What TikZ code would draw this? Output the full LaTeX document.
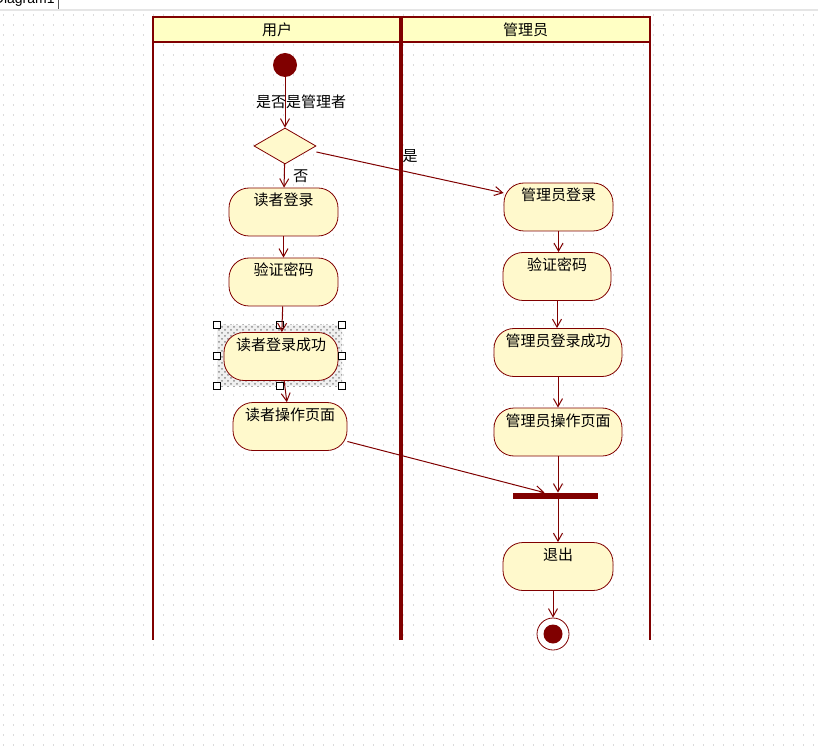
\documentclass[tikz,border=0pt]{standalone}
\usepackage{fontspec}
\setmainfont{Noto Sans CJK SC}
\newfontfamily\uifont{Liberation Sans}
\usetikzlibrary{arrows.meta,positioning,shapes.geometric,patterns}
\definecolor{umlred}{RGB}{128,0,0}
\definecolor{umlfill}{RGB}{255,249,204}
\definecolor{headfill}{RGB}{255,255,196}

\begin{document}
\begin{tikzpicture}[x=0.5pt,y=-0.5pt,>={Straight Barb[length=4pt,width=4.5pt]},
  every node/.style={font=\fontsize{7.5}{9}\selectfont},
  act/.style={draw=umlred,fill=umlfill,rounded corners=10pt,inner sep=0pt,minimum height=24pt,text height=9pt,text depth=15pt},
  lanehead/.style={draw=umlred,fill=headfill,line width=1pt,inner sep=0pt,minimum height=12.5pt},
  flow/.style={->,draw=umlred,line width=0.5pt},
  lane/.style={draw=umlred,line width=1pt}]
% canvas and grid
\fill[white] (0,0) rectangle (818,753);
\useasboundingbox (0,0) rectangle (818,753);
\foreach \gy in {15,25,...,745}
  \draw[gray!28,line width=0.6pt,dash pattern=on 0.6pt off 4.4pt] (3,\gy) -- (818,\gy);
\draw[gray!20,line width=1pt] (0,10) -- (818,10);
\begin{scope}
  \clip (0,0) rectangle (57,9);
  \node[font=\uifont\fontsize{7}{8}\selectfont,anchor=base east,inner sep=0pt] (tab) at (55,4) {Diagram1};
\end{scope}
\draw[gray!70!black] (58,0) -- (58,9);

% swimlanes
\node[lanehead,minimum width=124pt] (userhead) at (277,29.5) {用户};
\node[lanehead,minimum width=124.5pt] (adminhead) at (525.5,29.5) {管理员};
\draw[lane] (153,17) -- (153,640);
\draw[lane,line width=2pt] (401,17) -- (401,640);
\draw[lane] (650,17) -- (650,640);

% reader side
\node[circle,fill=umlred,minimum size=12pt,inner sep=0pt] (start) at (285,65) {};
\node[diamond,draw=umlred,fill=umlfill,minimum width=31pt,minimum height=18pt,inner sep=0pt] (isadmin) at (285,146) {};
\node[act,minimum width=54.5pt] (rlogin) at (283.5,212) {读者登录};
\node[act,minimum width=54.5pt] (rcheck) at (283.5,282) {验证密码};
\fill[gray!12] (217,325) rectangle (342,386);
\fill[pattern=crosshatch dots,pattern color=gray!90] (217,325) rectangle (342,386);
\node[act,minimum width=57pt] (rok) at (281,356.5) {读者登录成功};
\node[act,minimum width=57pt] (rpage) at (290,426.5) {读者操作页面};
\foreach \hx/\hy in {217/325,279.5/325,342/325,217/355.5,342/355.5,217/386,279.5/386,342/386}
  \draw[fill=white,line width=0.4pt] (\hx-3.5,\hy-3.5) rectangle ++(7,7);

% admin side
\node[act,minimum width=54.5pt] (alogin) at (558.5,207) {管理员登录};
\node[act,minimum width=54pt] (acheck) at (557,276.5) {验证密码};
\node[act,minimum width=64pt] (aok) at (558,352.5) {管理员登录成功};
\node[act,minimum width=64pt] (apage) at (558,432) {管理员操作页面};
\node[fill=umlred,minimum width=42.5pt,minimum height=3pt,inner sep=0pt] (join) at (555.5,496) {};
\node[act,minimum width=55pt] (quit) at (558,566.5) {退出};
\node[circle,draw=umlred,fill=white,minimum size=16pt,inner sep=0pt,
  path picture={\fill[umlred] (path picture bounding box.center) circle (4.75pt);}] (finish) at (553,634) {};

% flows
\draw[flow] (start) -- node[pos=.48,xshift=8pt] {是否是管理者} (isadmin);
\draw[flow] (isadmin) -- node[right=1pt] {否} (rlogin);
\draw[flow] ([yshift=-3pt]isadmin.east) -- node[above=1.5pt] {是} ([yshift=7pt]alogin.west);
\draw[flow] (rlogin) -- (rcheck);
\draw[flow] (rcheck) -- (rok);
\draw[flow] (rok) -- (rpage);
\draw[flow] ([yshift=-7.5pt]rpage.east) -- ([xshift=-5.5pt]join.north);
\draw[flow] (alogin) -- (alogin |- acheck.north);
\draw[flow] (acheck.south) -- (acheck.south |- aok.north);
\draw[flow] (aok) -- (apage);
\draw[flow] (apage.south) -- (apage.south |- join.north);
\draw[flow] (join.south -| apage) -- (quit);
\draw[flow] (quit.south -| finish) -- (finish);
\end{tikzpicture}
\end{document}
